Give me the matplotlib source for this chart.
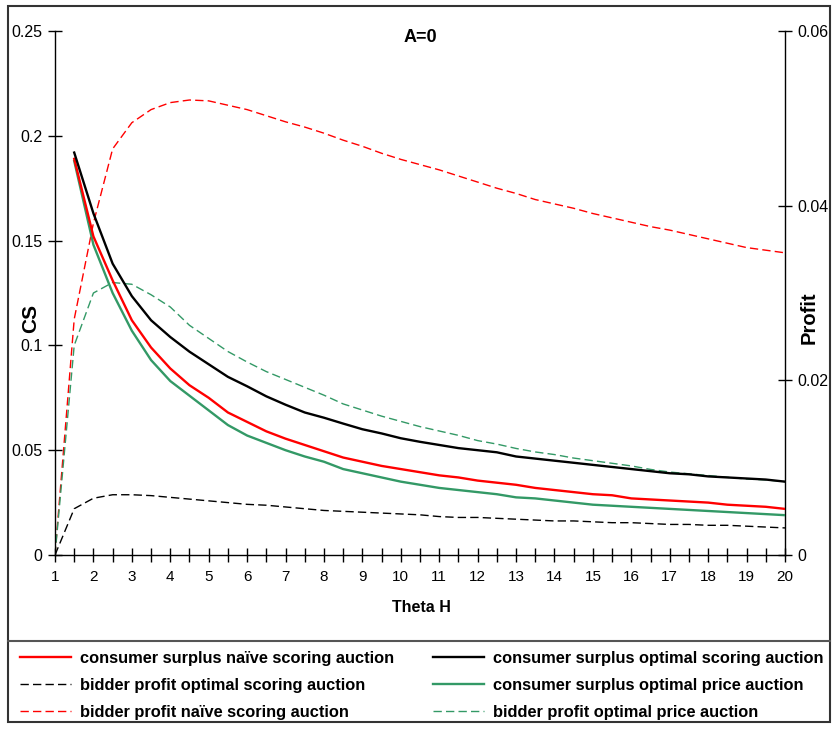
import numpy as np
import matplotlib
matplotlib.use("Agg")
import matplotlib.pyplot as plt
from matplotlib.lines import Line2D
from matplotlib.patches import Rectangle

plt.rcParams['font.family'] = ['Liberation Sans', 'DejaVu Sans']

theta = [1, 1.5, 2, 2.5, 3, 3.5, 4, 4.5, 5, 5.5, 6, 6.5, 7, 7.5, 8, 8.5, 9, 9.5, 10,
         10.5, 11, 11.5, 12, 12.5, 13, 13.5, 14, 14.5, 15, 15.5, 16, 16.5, 17, 17.5,
         18, 18.5, 19, 19.5, 20]

nan = float('nan')
cs_naive = [nan, 0.189, 0.152, 0.131, 0.112, 0.099, 0.089, 0.081, 0.075, 0.068, 0.0635,
            0.059, 0.0555, 0.0525, 0.0495, 0.0465, 0.0445, 0.0425, 0.041, 0.0395, 0.038,
            0.037, 0.0355, 0.0345, 0.0335, 0.032, 0.031, 0.030, 0.029, 0.0285, 0.027,
            0.0265, 0.026, 0.0255, 0.025, 0.024, 0.0235, 0.023, 0.022]
cs_opt_scoring = [nan, 0.192, 0.163, 0.139, 0.1235, 0.112, 0.104, 0.097, 0.091, 0.085,
                  0.0805, 0.0757, 0.0717, 0.068, 0.0655, 0.0627, 0.060, 0.058, 0.0557,
                  0.054, 0.0525, 0.051, 0.050, 0.049, 0.047, 0.046, 0.045, 0.044, 0.043,
                  0.042, 0.041, 0.040, 0.039, 0.0385, 0.0375, 0.037, 0.0365, 0.036, 0.035]
cs_opt_price = [nan, 0.188, 0.148, 0.125, 0.107, 0.093, 0.083, 0.076, 0.069, 0.062, 0.057,
                0.0535, 0.050, 0.047, 0.0445, 0.041, 0.039, 0.037, 0.035, 0.0335, 0.032,
                0.031, 0.030, 0.029, 0.0275, 0.027, 0.026, 0.025, 0.024, 0.0235, 0.023,
                0.0225, 0.022, 0.0215, 0.021, 0.0205, 0.020, 0.0195, 0.019]
profit_opt_scoring = [0, 0.0053, 0.0065, 0.0069, 0.0069, 0.0068, 0.0066, 0.0064, 0.0062,
                      0.0060, 0.0058, 0.0057, 0.0055, 0.0053, 0.0051, 0.0050, 0.0049,
                      0.0048, 0.0047, 0.0046, 0.0044, 0.0043, 0.0043, 0.0042, 0.0041,
                      0.0040, 0.0039, 0.0039, 0.0038, 0.0037, 0.0037, 0.0036, 0.0035,
                      0.0035, 0.0034, 0.0034, 0.0033, 0.0032, 0.0031]
profit_naive = [0, 0.027, 0.038, 0.0465, 0.0495, 0.051, 0.0518, 0.0521, 0.052, 0.0515,
                0.051, 0.0503, 0.0496, 0.049, 0.0483, 0.0475, 0.0468, 0.046, 0.0453,
                0.0447, 0.0441, 0.0434, 0.0427, 0.042, 0.0414, 0.0407, 0.0402, 0.0397,
                0.0391, 0.0386, 0.0381, 0.0376, 0.0372, 0.0367, 0.0362, 0.0357, 0.0352,
                0.0349, 0.0346]
profit_opt_price = [0, 0.024, 0.030, 0.0312, 0.031, 0.0298, 0.0284, 0.0263, 0.0248,
                    0.0233, 0.0221, 0.021, 0.0201, 0.0192, 0.0183, 0.0173, 0.0166, 0.0159,
                    0.0153, 0.0147, 0.0142, 0.0137, 0.0131, 0.0127, 0.0122, 0.0118,
                    0.0115, 0.0111, 0.0108, 0.0105, 0.0102, 0.0098, 0.0095, 0.0093,
                    0.0091, 0.0089, 0.0087, 0.0086, 0.0084]

labels = ["consumer surplus naïve scoring auction",
          "consumer surplus optimal scoring auction",
          "bidder profit optimal scoring auction",
          "consumer surplus optimal price auction",
          "bidder profit naïve scoring auction",
          "bidder profit optimal price auction"]

RED = '#FF0000'
GREEN = '#339966'
BLACK = '#000000'
DASH = (0, (6, 3))

W, H = 833, 729
fig = plt.figure(figsize=(W/100, H/100), dpi=100)
ax = fig.add_axes([55/W, 1-555/H, 730/W, 524/H])
ax2 = ax.twinx()

l_cs_n, = ax.plot(theta, cs_naive, color=RED, lw=1.7, zorder=5)
l_cs_os, = ax.plot(theta, cs_opt_scoring, color=BLACK, lw=1.7, zorder=5)
l_cs_op, = ax.plot(theta, cs_opt_price, color=GREEN, lw=1.7, zorder=4)
l_p_os, = ax2.plot(theta, profit_opt_scoring, color=BLACK, lw=1.0, linestyle=DASH)
l_p_n, = ax2.plot(theta, profit_naive, color=RED, lw=1.0, linestyle=DASH)
l_p_op, = ax2.plot(theta, profit_opt_price, color=GREEN, lw=1.0, linestyle=DASH)

ax.set_zorder(ax2.get_zorder() + 1)
ax.patch.set_visible(False)

ax.set_xlim(1, 20)
ax.set_ylim(0, 0.25)
ax2.set_ylim(0, 0.06)

ax.set_xticks(np.arange(1, 21, 1))
ax.set_xticks(np.arange(1.5, 20, 1), minor=True)
ax.set_xticklabels([str(i) for i in range(1, 21)])
ax.set_yticks([0, 0.05, 0.1, 0.15, 0.2, 0.25])
ax.set_yticklabels(['0', '0.05', '0.1', '0.15', '0.2', '0.25'])
ax2.set_yticks([0, 0.02, 0.04, 0.06])
ax2.set_yticklabels(['0', '0.02', '0.04', '0.06'])

for a in (ax, ax2):
    a.spines['top'].set_visible(False)
    for s in ('left', 'right', 'bottom'):
        a.spines[s].set_linewidth(1.0)
ax.spines['right'].set_visible(False)
ax2.spines['left'].set_visible(False)
ax2.spines['bottom'].set_visible(False)

ax.tick_params(axis='x', which='both', direction='inout', length=10, width=1,
               labelsize=11, pad=6)
ax.tick_params(axis='y', which='both', direction='inout', length=10, width=1,
               labelsize=11.5, pad=4)
ax2.tick_params(axis='y', which='both', direction='inout', length=10, width=1,
                labelsize=11.5, pad=4)

fig.text(31/W, 1-318/H, 'CS', rotation=90, fontsize=15, fontweight='bold',
         ha='center', va='center')
fig.text(809/W, 1-318/H, 'Profit', rotation=90, fontsize=14.5, fontweight='bold',
         ha='center', va='center')
fig.text(421/W, 1-607/H, 'Theta H', fontsize=11.5, fontweight='bold',
         ha='center', va='center')
fig.text(420/W, 1-38/H, 'A=0', fontsize=13, fontweight='bold',
         ha='center', va='center')

fig.patches.append(Rectangle((8/W, 1-722/H), 822/W, 716/H, transform=fig.transFigure,
                             fill=False, edgecolor='#333333', lw=1.5))
fig.lines.append(Line2D([8/W, 830/W], [1-641/H, 1-641/H], transform=fig.transFigure,
                        color='#555555', lw=1.5))

col1 = [(l_cs_n, labels[0]), (l_p_os, labels[2]), (l_p_n, labels[4])]
col2 = [(l_cs_os, labels[1]), (l_cs_op, labels[3]), (l_p_op, labels[5])]
for col, x0 in ((col1, 20), (col2, 433)):
    fig.legend([c[0] for c in col], [c[1] for c in col], loc='upper left',
               bbox_to_anchor=(x0/W, 1-651/H), frameon=False,
               prop={'weight': 'bold', 'size': 11.8},
               handlelength=3.1, handletextpad=0.55, labelspacing=0.72,
               borderaxespad=0, borderpad=0)

fig.savefig('out.png', dpi=100)
